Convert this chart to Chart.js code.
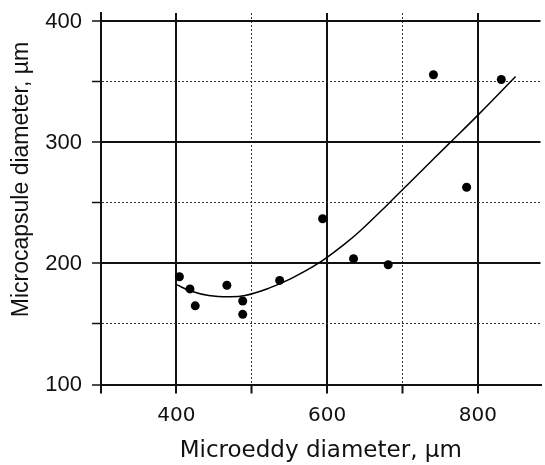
<!DOCTYPE html>
<html>
<head>
<meta charset="utf-8">
<script src="https://cdn.jsdelivr.net/npm/chart.js@4"></script>
<style>
  body { margin: 0; background: #fff; }
</style>
</head>
<body>
<canvas id="myChart" width="545" height="465"></canvas>
<script>
// measured points
const eddyDiam = [404, 418, 425, 467, 488, 488, 537, 594, 635, 681, 741, 785, 831];
const capsuleDiam = [189, 179, 165, 182, 169, 158, 186, 237, 204, 199, 356, 263, 352];

// fitted curve
const fitEddy = [400, 420, 443, 470, 491, 522, 552, 588, 623, 644, 680, 720, 760, 800, 850];
const fitCapsule = [182.5, 177, 173.5, 172.5, 173.5, 179.4, 187.5, 200, 216, 227, 248.6, 273.4, 298, 322.6, 354.5];

const xTicks = [300, 400, 500, 600, 700, 800];
const xLabels = [400, 600, 800];
const yTicks = [100, 150, 200, 250, 300, 350, 400];
const yLabels = [100, 200, 300, 400];

const toXY = (xs, ys) => xs.map((x, i) => ({ x: x, y: ys[i] }));

// dotted lines sit between the labelled ones
const isMinor = (ctx, labels) => ctx.tick && !labels.includes(ctx.tick.value) && ctx.tick.value !== 300 && ctx.tick.value !== 100;

new Chart("myChart", {
    type: "scatter",
    data: {
        datasets: [
            {
                label: "measured",
                data: toXY(eddyDiam, capsuleDiam),
                backgroundColor: "#000",
                borderWidth: 0,
                pointRadius: 4.5,
                pointHoverRadius: 4.5
            },
            {
                label: "fit",
                data: toXY(fitEddy, fitCapsule),
                showLine: true,
                borderColor: "#000",
                borderWidth: 1.5,
                pointRadius: 0,
                tension: 0.4
            }
        ]
    },
    options: {
        responsive: false,
        animation: false,
        layout: { padding: { top: 13, right: 0, bottom: 0, left: 0 } },
        plugins: { legend: { display: false }, tooltip: { enabled: false } },
        scales: {
            x: {
                type: "linear",
                min: 300,
                max: 883,
                afterBuildTicks: axis => { axis.ticks = xTicks.map(v => ({ value: v })); },
                afterFit: s => {
                    s.height = 80.5;
                    s.paddingLeft = 0;
                    s.paddingRight = 0;
                },
                grid: {
                    color: ctx => isMinor(ctx, xLabels) ? "#333" : "#111",
                    lineWidth: ctx => isMinor(ctx, xLabels) ? 1 : 2,
                    tickLength: 9,
                    tickColor: "#111",
                    tickWidth: 2
                },
                border: {
                    display: true,
                    color: "#111",
                    width: 2,
                    dash: ctx => isMinor(ctx, xLabels) ? [2, 2] : []
                },
                ticks: {
                    autoSkip: false,
                    maxRotation: 0,
                    padding: 10,
                    color: "#111",
                    font: { family: "DejaVu Sans", size: 20 },
                    callback: v => xLabels.includes(v) ? String(v) : ""
                },
                title: {
                    display: true,
                    text: "Microeddy diameter, µm",
                    color: "#111",
                    font: { family: "DejaVu Sans", size: 23 },
                    padding: { top: 0, bottom: 0 }
                }
            },
            y: {
                type: "linear",
                min: 100,
                max: 407,
                afterBuildTicks: axis => { axis.ticks = yTicks.map(v => ({ value: v })); },
                afterFit: s => {
                    s.width = 101;
                    s.paddingTop = 0;
                    s.paddingBottom = 0;
                },
                grid: {
                    color: ctx => isMinor(ctx, yLabels) ? "#333" : "#111",
                    lineWidth: ctx => isMinor(ctx, yLabels) ? 1 : 2,
                    tickLength: 9,
                    tickColor: "#111",
                    tickWidth: 1.5
                },
                border: {
                    display: true,
                    color: "#111",
                    width: 2,
                    dash: ctx => isMinor(ctx, yLabels) ? [2, 2] : []
                },
                ticks: {
                    autoSkip: false,
                    padding: 10,
                    color: "#111",
                    font: { family: "Liberation Sans", size: 22 },
                    callback: v => yLabels.includes(v) ? String(v) : ""
                },
                title: {
                    display: true,
                    text: "      Microcapsule diameter, µm",
                    color: "#111",
                    font: { family: "Liberation Sans", size: 23 },
                    padding: { top: 8, bottom: 0 }
                }
            }
        }
    }
});
</script>
</body>
</html>
